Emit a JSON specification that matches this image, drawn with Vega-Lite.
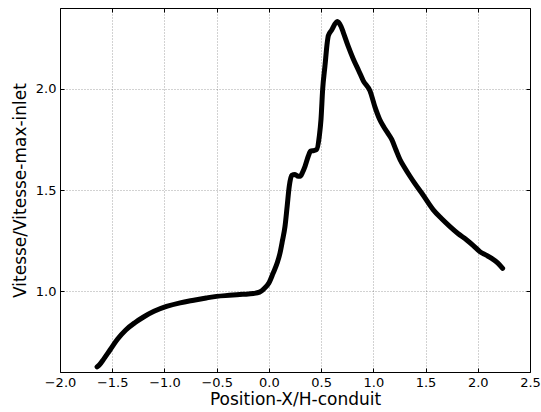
{
  "$schema": "https://vega.github.io/schema/vega-lite/v6.json",
  "autosize": "none",
  "width": 470,
  "height": 364,
  "padding": {"left": 60, "top": 8, "right": 11, "bottom": 40},
  "background": "white",
  "config": {
    "view": {"stroke": "#000", "strokeWidth": 1},
    "font": "DejaVu Sans",
    "axis": {
      "domain": false,
      "ticks": true,
      "tickSize": -4,
      "tickColor": "#000",
      "tickWidth": 1,
      "labelFlush": false,
      "grid": true,
      "gridColor": "#000",
      "gridOpacity": 0.45,
      "gridDash": [1, 2],
      "gridWidth": 0.8,
      "labelFont": "DejaVu Sans",
      "labelFontSize": 13,
      "labelColor": "#000",
      "titleFont": "DejaVu Sans",
      "titleFontSize": 17,
      "titleFontWeight": "normal",
      "titleColor": "#000"
    }
  },
  "data": {
    "values": [
      {"x": -1.645, "y": 0.625}, {"x": -1.62, "y": 0.637}, {"x": -1.58, "y": 0.665},
      {"x": -1.52, "y": 0.71}, {"x": -1.45, "y": 0.762}, {"x": -1.37, "y": 0.808},
      {"x": -1.28, "y": 0.845}, {"x": -1.2, "y": 0.872}, {"x": -1.1, "y": 0.9},
      {"x": -0.98, "y": 0.924}, {"x": -0.85, "y": 0.942}, {"x": -0.72, "y": 0.955},
      {"x": -0.6, "y": 0.966}, {"x": -0.5, "y": 0.974}, {"x": -0.38, "y": 0.979},
      {"x": -0.25, "y": 0.984}, {"x": -0.15, "y": 0.988}, {"x": -0.09, "y": 0.995},
      {"x": -0.05, "y": 1.01}, {"x": 0.0, "y": 1.04}, {"x": 0.04, "y": 1.088},
      {"x": 0.08, "y": 1.14}, {"x": 0.106, "y": 1.187}, {"x": 0.13, "y": 1.25},
      {"x": 0.154, "y": 1.319}, {"x": 0.175, "y": 1.42}, {"x": 0.195, "y": 1.518},
      {"x": 0.218, "y": 1.572}, {"x": 0.25, "y": 1.577}, {"x": 0.28, "y": 1.568},
      {"x": 0.3, "y": 1.568}, {"x": 0.32, "y": 1.585}, {"x": 0.346, "y": 1.617},
      {"x": 0.377, "y": 1.667}, {"x": 0.4, "y": 1.692}, {"x": 0.43, "y": 1.695},
      {"x": 0.457, "y": 1.7}, {"x": 0.483, "y": 1.767}, {"x": 0.499, "y": 1.85},
      {"x": 0.515, "y": 1.999}, {"x": 0.537, "y": 2.114}, {"x": 0.559, "y": 2.23},
      {"x": 0.569, "y": 2.263}, {"x": 0.6, "y": 2.29}, {"x": 0.655, "y": 2.333},
      {"x": 0.69, "y": 2.31}, {"x": 0.712, "y": 2.28}, {"x": 0.76, "y": 2.21},
      {"x": 0.808, "y": 2.148}, {"x": 0.86, "y": 2.09}, {"x": 0.904, "y": 2.04},
      {"x": 0.968, "y": 1.99}, {"x": 1.016, "y": 1.91}, {"x": 1.06, "y": 1.85},
      {"x": 1.095, "y": 1.816}, {"x": 1.14, "y": 1.78}, {"x": 1.176, "y": 1.75},
      {"x": 1.215, "y": 1.7}, {"x": 1.255, "y": 1.651}, {"x": 1.3, "y": 1.61},
      {"x": 1.351, "y": 1.568}, {"x": 1.4, "y": 1.53}, {"x": 1.463, "y": 1.485},
      {"x": 1.574, "y": 1.402}, {"x": 1.65, "y": 1.36}, {"x": 1.734, "y": 1.319},
      {"x": 1.81, "y": 1.285}, {"x": 1.894, "y": 1.253}, {"x": 1.96, "y": 1.224},
      {"x": 2.021, "y": 1.195}, {"x": 2.08, "y": 1.178}, {"x": 2.133, "y": 1.162},
      {"x": 2.19, "y": 1.14}, {"x": 2.238, "y": 1.113}
    ]
  },
  "resolve": {"axis": {"x": "independent", "y": "independent"}},
  "layer": [
    {
      "mark": {"type": "line", "color": "#000", "strokeWidth": 5, "strokeCap": "round", "strokeJoin": "round", "interpolate": "monotone"},
      "encoding": {
        "x": {
          "field": "x", "type": "quantitative",
          "scale": {"domain": [-2.0, 2.5], "nice": false, "zero": false},
          "axis": {"values": [-2.0, -1.5, -1.0, -0.5, 0.0, 0.5, 1.0, 1.5, 2.0, 2.5], "format": ".1f", "labelPadding": 8, "titlePadding": 2, "title": "Position-X/H-conduit"}
        },
        "y": {
          "field": "y", "type": "quantitative",
          "scale": {"domain": [0.6, 2.4], "nice": false, "zero": false},
          "axis": {"values": [1.0, 1.5, 2.0], "format": ".1f", "labelPadding": 8, "titlePadding": 6, "title": "Vitesse/Vitesse-max-inlet"}
        }
      }
    },
    {
      "mark": {"type": "point", "opacity": 0},
      "encoding": {
        "x": {
          "field": "x", "type": "quantitative",
          "scale": {"domain": [-2.0, 2.5], "nice": false, "zero": false},
          "axis": {"orient": "top", "values": [-2.0, -1.5, -1.0, -0.5, 0.0, 0.5, 1.0, 1.5, 2.0, 2.5], "labels": false, "grid": false, "title": null}
        },
        "y": {
          "field": "y", "type": "quantitative",
          "scale": {"domain": [0.6, 2.4], "nice": false, "zero": false},
          "axis": {"orient": "right", "values": [1.0, 1.5, 2.0], "labels": false, "grid": false, "title": null}
        }
      }
    }
  ]
}
